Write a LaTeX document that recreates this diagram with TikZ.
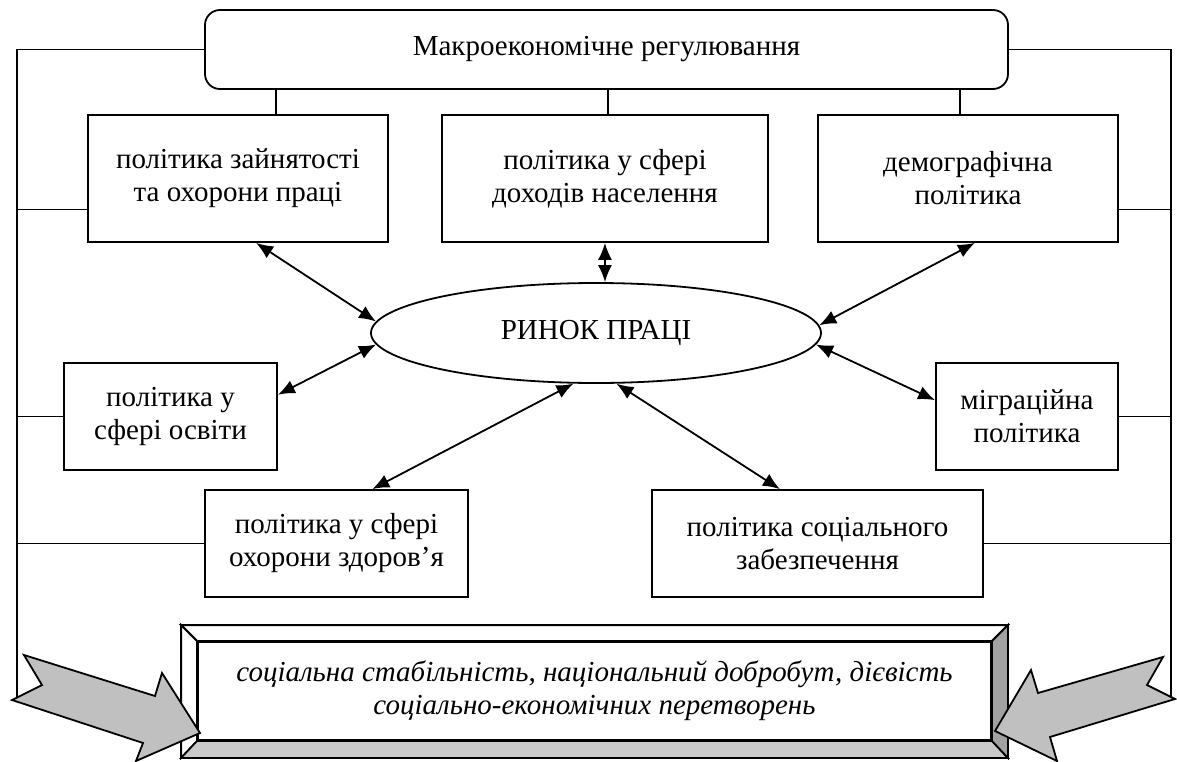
\documentclass[tikz,border=0pt]{standalone}
\usepackage{fontspec}
\setmainfont{Liberation Serif}
\usetikzlibrary{arrows.meta,shapes.geometric,calc}
\definecolor{arrowgray}{HTML}{C0C0C0}
\definecolor{bevellight}{HTML}{CACACA}
\definecolor{beveldark}{HTML}{A2A2A2}
\begin{document}
\begin{tikzpicture}[x=1pt,y=-1pt,line width=1.8pt,
  font=\fontsize{29}{33}\selectfont,
  box/.style={draw,rectangle,inner sep=0pt,align=center},
  mainbox/.style={box,rounded corners=15pt},
  market/.style={draw,ellipse,inner sep=0pt,minimum width=450pt,minimum height=100pt},
  link/.style={line width=1.8pt,{Latex[length=17pt,width=14pt]}-{Latex[length=17pt,width=14pt]}},
  bigarrow/.style={draw,fill=arrowgray,line width=1.8pt,line join=miter}]
\useasboundingbox (0,0) rectangle (1177,762);

% regulation box and policy boxes
\node[mainbox,minimum width=803pt,minimum height=79pt] (reg) at (606.5,49.5) {Макроекономічне регулювання};
\node[box,minimum width=300pt,minimum height=127pt] (empl) at (238,178.5) {політика зайнятості\\та охорони праці};
\node[box,minimum width=326pt,minimum height=127pt] (income) at (605,178.5) {політика у сфері\\доходів населення};
\node[box,minimum width=300pt,minimum height=127pt] (demo) at (968,178.5) {демографічна\\політика};
\node[market] (rynok) at (596,333) {РИНОК ПРАЦІ};
\node[box,minimum width=213pt,minimum height=107pt] (edu) at (170.5,416.5) {політика у\\сфері освіти};
\node[box,minimum width=182pt,minimum height=107pt] (migr) at (1027,416.5) {міграційна\\політика};
\node[box,minimum width=263pt,minimum height=107pt] (health) at (336.5,543.5) {політика у сфері\\охорони здоров’я};
\node[box,minimum width=331pt,minimum height=107pt] (social) at (817.5,543.5) {політика соціального\\забезпечення};

% side rails
\coordinate (railL) at (17,700);
\coordinate (railR) at (1171,699);
\draw (reg.west) -| (railL);
\draw (reg.east) -| (railR);
\coordinate (e1) at ($(empl.south west)!0.26!(empl.north west)$);
\draw (e1) -- (e1 -| railL);
\coordinate (d1) at ($(demo.south east)!0.26!(demo.north east)$);
\draw (d1) -- (d1 -| railR);
\draw (edu.west) -- (edu.west -| railL);
\draw (migr.east) -- (migr.east -| railR);
\draw (health.west) -- (health.west -| railL);
\draw (social.east) -- (social.east -| railR);

% drops from the regulation box
\coordinate (t1) at ($(empl.north)+(38,0)$);
\draw (t1) -- (t1 |- reg.south);
\coordinate (t2) at ($(income.north)+(3,0)$);
\draw (t2) -- (t2 |- reg.south);
\coordinate (t3) at ($(demo.north)+(-8,0)$);
\draw (t3) -- (t3 |- reg.south);

% two-way links with the labour market
\draw[link] ($(empl.south west)!0.56!(empl.south east)$) -- (rynok.177);
\draw[link] (rynok.80 |- income.south) -- (rynok.80);
\draw[link] ($(demo.south west)!0.523!(demo.south east)$) -- (rynok.2);
\draw[link] ($(edu.north east)!0.3!(edu.south east)$) -- (rynok.183);
\draw[link] (rynok.357) -- ($(migr.north west)!0.35!(migr.south west)$);
\draw[link] ($(health.north west)!0.635!(health.north east)$) -- (rynok.246);
\draw[link] (rynok.292) -- ($(social.north west)!0.387!(social.north east)$);

% bevelled result box
\node[box,minimum width=793pt,minimum height=98pt,
      font=\fontsize{29}{33}\selectfont\itshape] (goal) at (594.5,691)
  {соціальна стабільність, національний добробут, дієвість\\соціально-економічних перетворень};
\coordinate (o1) at ($(goal.north west)+(-16,-16)$);
\coordinate (o2) at ($(goal.north east)+(16,-16)$);
\coordinate (o3) at ($(goal.south east)+(16,17)$);
\coordinate (o4) at ($(goal.south west)+(-16,17)$);
\draw[fill=white,line join=miter] (o1) -- (o2) -- (goal.north east) -- (goal.north west) -- cycle;
\draw[fill=white,line join=miter] (o1) -- (goal.north west) -- (goal.south west) -- (o4) -- cycle;
\draw[fill=bevellight,line join=miter] (o4) -- (goal.south west) -- (goal.south east) -- (o3) -- cycle;
\draw[fill=beveldark,line join=miter] (o2) -- (o3) -- (goal.south east) -- (goal.north east) -- cycle;

% block arrows pointing at the result box
\draw[bigarrow] (24,655) -- (42,685) -- (12,700) -- (143,743) -- (136,761) -- (200,733) -- (162,673) -- (155,696) -- cycle;
\draw[bigarrow] (1163,657) -- (1147,685) -- (1175,699) -- (1050,737) -- (1057,761) -- (995,731) -- (1031,670) -- (1038,693) -- cycle;
\end{tikzpicture}
\end{document}
